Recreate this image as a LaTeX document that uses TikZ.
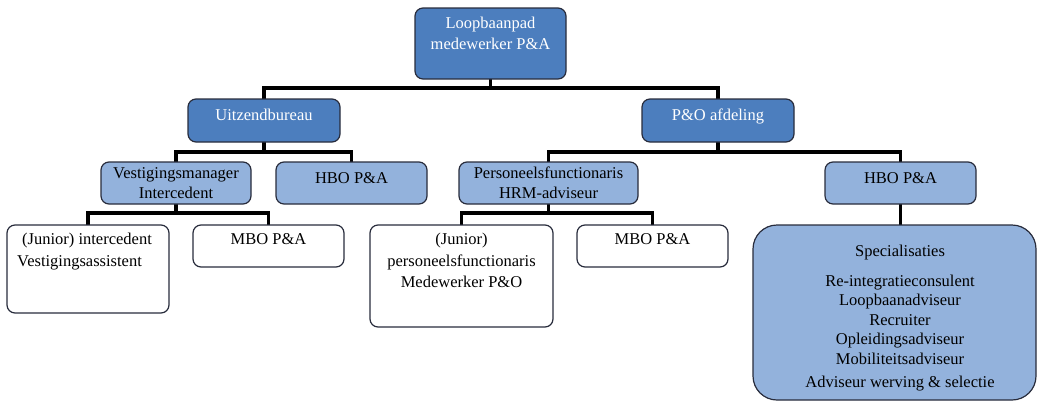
\documentclass[tikz,border=0pt]{standalone}
\usepackage{fontspec}
\setmainfont{Liberation Serif}
\usetikzlibrary{backgrounds}
\definecolor{darkblue}{RGB}{76,126,190}
\definecolor{lightblue}{RGB}{147,178,220}
\definecolor{edgegrey}{RGB}{40,44,60}
\begin{document}
\begin{tikzpicture}[x=1pt,y=-1pt,
  box/.style={draw=edgegrey, line width=1.2pt, rounded corners=8pt, inner sep=0pt, outer sep=0pt},
  dbox/.style={box, fill=darkblue},
  lbox/.style={box, fill=lightblue},
  wbox/.style={box, fill=white},
  txt/.style={anchor=north, inner sep=0pt, align=center, font=\fontsize{16.5}{20}\selectfont},
  wtxt/.style={txt, text=white},
  conn/.style={line width=3.8pt, black}]
\useasboundingbox (0,0) rectangle (1038,402);

% boxes
\node[dbox, minimum width=151pt, minimum height=71pt] (top) at (490.5,43.5) {};
\node[dbox, minimum width=152pt, minimum height=43pt] (uitz) at (264,120.5) {};
\node[dbox, minimum width=152pt, minimum height=43pt] (pao) at (718,120.5) {};
\node[lbox, minimum width=150pt, minimum height=42pt] (vest) at (176,183) {};
\node[lbox, minimum width=151pt, minimum height=42pt] (hboa) at (351.5,183) {};
\node[lbox, minimum width=179pt, minimum height=42pt] (pers) at (548.5,183) {};
\node[lbox, minimum width=151pt, minimum height=42pt] (hbob) at (900.5,183) {};
\node[wbox, minimum width=162pt, minimum height=88pt] (jint) at (88,269) {};
\node[wbox, minimum width=151pt, minimum height=42pt] (mboa) at (268.5,246) {};
\node[wbox, minimum width=183pt, minimum height=102pt] (jpers) at (461.5,276) {};
\node[wbox, minimum width=151pt, minimum height=42pt] (mbob) at (652.5,246) {};
\node[lbox, rounded corners=24pt, minimum width=283pt, minimum height=175pt] (spec) at (894.5,312.5) {};

% texts
\node[wtxt, font=\fontsize{16.5}{21}\selectfont] (ttop) at (490.5,17) {Loopbaanpad\\medewerker P\&A};
\node[wtxt] (tuitz) at (264,109) {Uitzendbureau};
\node[wtxt] (tpao) at (718,109) {P\&O afdeling};
\node[txt] (tvest) at (176,167) {Vestigingsmanager\\Intercedent};
\node[txt] (thboa) at (351.5,172) {HBO P\&A};
\node[txt] (tpers) at (548.5,167) {Personeelsfunctionaris\\HRM-adviseur};
\node[txt] (thbob) at (900.5,172) {HBO P\&A};
\node[txt, anchor=north west, align=left, font=\fontsize{16.5}{22}\selectfont] (tjint) at (17,233) {\hspace{5pt}(Junior) intercedent\\Vestigingsassistent};
\node[txt] (tmboa) at (268.5,233) {MBO P\&A};
\node[txt, font=\fontsize{16.5}{21.5}\selectfont] (tjpers) at (461.5,233) {(Junior)\\personeelsfunctionaris\\Medewerker P\&O};
\node[txt] (tmbob) at (652.5,233) {MBO P\&A};
\node[txt, font=\fontsize{16.5}{19.5}\selectfont] (tspec) at (900,245) {Specialisaties\\[10pt]Re-integratieconsulent\\Loopbaanadviseur\\Recruiter\\Opleidingsadviseur\\Mobiliteitsadviseur\\[4pt]Adviseur werving \& selectie};

% connectors
\coordinate (j0) at (490.5,88);
\coordinate (j1) at (264,152);
\coordinate (j2) at (718,152);
\coordinate (j3) at (176,213);
\coordinate (j4) at (548.5,213);
\begin{scope}[on background layer]
\draw[conn] (top.south) -- (j0);
\draw[conn] (uitz.north) |- (j0) -| (pao.north);
\draw[conn] (uitz.south) -- (j1);
\draw[conn] (vest.north) |- (j1) -| (hboa.north);
\draw[conn] (pao.south) -- (j2);
\draw[conn] (pers.north) |- (j2) -| (hbob.north);
\draw[conn] (vest.south) -- (j3);
\draw[conn] (jint.north) |- (j3) -| (mboa.north);
\draw[conn] (pers.south) -- (j4);
\draw[conn] (jpers.north) |- (j4) -| (mbob.north);
\draw[conn] (hbob.south) -- (hbob.south |- spec.north);
\end{scope}
\end{tikzpicture}
\end{document}
